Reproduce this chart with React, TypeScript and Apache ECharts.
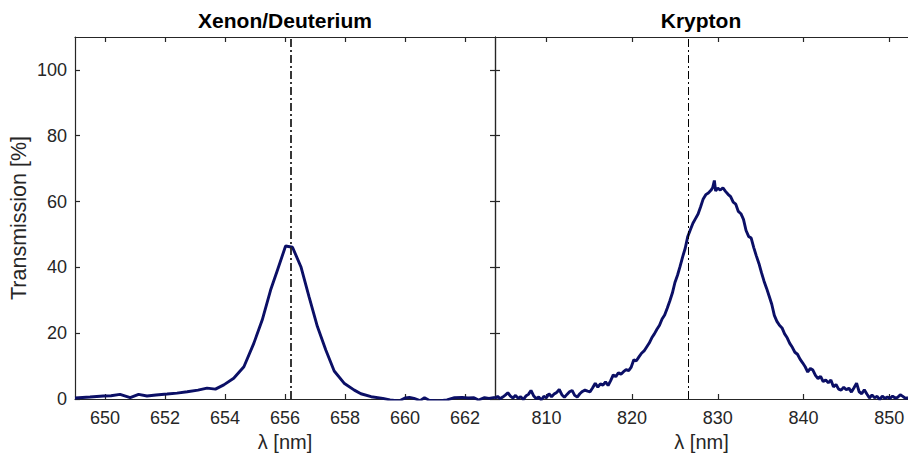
import React, { useEffect, useRef } from "react";
import * as echarts from "echarts";

const xenonTitle = "Xenon/Deuterium";
const kryptonTitle = "Krypton";
const xLabel = "λ [nm]";
const yLabel = "Transmission [%]";

const xenonTicks = [650, 652, 654, 656, 658, 660, 662];
const kryptonTicks = [810, 820, 830, 840, 850];
const yTicks = [0, 20, 40, 60, 80, 100];
const xenonRange = [649, 663];
const kryptonRange = [804, 852.2];
const yRange = [0, 110];
const xenonLine = 656.2;
const kryptonLine = 826.5;

const xenonPoints = [
  [649.0, 0.3], [649.5, 0.6], [649.95, 0.9], [650.2, 1.0], [650.5, 1.4], [650.84, 0.4],
  [651.12, 1.4], [651.4, 0.9], [651.7, 1.2], [652.07, 1.5], [652.4, 1.8], [652.74, 2.2],
  [653.1, 2.7], [653.4, 3.3], [653.68, 3.0], [653.96, 4.3], [654.29, 6.3], [654.63, 9.8],
  [654.96, 16.9], [655.24, 24.0], [655.52, 33.1], [655.75, 39.2], [656.02, 46.5], [656.25, 46.1],
  [656.53, 40.2], [656.8, 31.1], [657.08, 22.0], [657.36, 14.9], [657.64, 8.5], [657.97, 4.8],
  [658.31, 2.7], [658.53, 1.6], [658.87, 0.7], [659.26, 0.2], [659.5, -0.3], [659.8, -0.6],
  [660.0, 0.3], [660.15, 0.5], [660.3, 0.2], [660.5, -0.5], [660.65, 0.4], [660.8, -0.4],
  [661.1, -0.6], [661.4, -0.3], [661.65, 0.4], [661.9, 0.5], [662.1, 0.3], [662.3, 0.4],
  [662.45, -0.3], [662.65, 0.4], [662.8, 0.2], [663.0, 0.5],
];

const kryptonPoints = [
  [804.0, 0.2], [804.3, 0.8], [804.6, 0.1], [804.9, 0.6], [805.2, 1.2], [805.5, 1.9],
  [805.8, 0.9], [806.1, 0.3], [806.4, 1.1], [806.7, 0.2], [807.0, 0.7], [807.3, -0.2],
  [807.6, 0.9], [807.9, 1.4], [808.2, 2.6], [808.5, 1.0], [808.8, 0.1], [809.1, 0.6],
  [809.4, -0.3], [809.7, 0.8], [810.0, 0.4], [810.3, 1.6], [810.6, 0.7], [810.9, 1.5],
  [811.2, 2.0], [811.5, 2.9], [811.8, 1.3], [812.1, 0.5], [812.4, 1.4], [812.7, 2.2],
  [813.0, 2.6], [813.3, 1.1], [813.6, 0.6], [813.9, 1.6], [814.2, 2.3], [814.5, 2.7],
  [814.8, 2.4], [815.1, 2.2], [815.4, 3.4], [815.7, 4.8], [816.0, 3.6], [816.3, 4.6],
  [816.6, 4.2], [816.9, 5.2], [817.2, 4.1], [817.5, 5.6], [817.8, 7.3], [818.1, 6.8],
  [818.4, 8.0], [818.7, 7.5], [819.0, 8.3], [819.3, 8.9], [819.6, 8.6], [819.9, 9.7],
  [820.2, 11.9], [820.5, 11.6], [820.8, 12.8], [821.1, 13.9], [821.4, 14.6], [821.7, 15.8],
  [822.0, 17.0], [822.3, 18.6], [822.6, 19.8], [822.9, 21.2], [823.2, 22.4], [823.5, 24.3],
  [823.8, 25.5], [824.1, 27.6], [824.4, 29.8], [824.7, 32.2], [825.0, 35.4], [825.3, 37.6],
  [825.6, 40.3], [825.9, 43.2], [826.2, 45.8], [826.5, 49.4], [826.8, 51.4], [827.1, 53.4],
  [827.4, 54.8], [827.7, 56.2], [828.0, 58.4], [828.3, 60.8], [828.6, 62.1], [828.9, 62.6],
  [829.2, 63.4], [829.4, 64.2], [829.6, 66.4], [829.75, 63.2], [830.0, 64.1], [830.3, 63.5],
  [830.6, 64.2], [830.9, 63.1], [831.2, 62.2], [831.5, 61.5], [831.8, 59.8], [832.1, 59.2],
  [832.4, 57.0], [832.7, 56.3], [833.0, 54.6], [833.3, 51.2], [833.6, 49.4], [833.9, 48.9],
  [834.2, 46.0], [834.5, 43.5], [834.8, 41.2], [835.1, 38.4], [835.4, 35.8], [835.7, 33.6],
  [836.0, 31.2], [836.3, 28.8], [836.6, 25.4], [836.9, 23.6], [837.2, 22.4], [837.5, 21.6],
  [837.8, 19.8], [838.1, 18.6], [838.4, 16.9], [838.7, 15.7], [839.0, 14.2], [839.3, 13.6],
  [839.6, 12.1], [839.9, 11.0], [840.2, 9.8], [840.5, 8.2], [840.8, 9.3], [841.1, 8.8],
  [841.4, 7.2], [841.7, 6.2], [842.0, 6.9], [842.3, 5.3], [842.6, 5.8], [842.9, 4.9],
  [843.2, 5.8], [843.5, 3.7], [843.8, 4.4], [844.1, 3.0], [844.4, 2.7], [844.7, 3.6],
  [845.0, 2.8], [845.3, 3.3], [845.6, 2.1], [845.9, 3.4], [846.2, 4.8], [846.5, 2.2],
  [846.8, 1.6], [847.1, 2.8], [847.4, 1.5], [847.7, 0.3], [848.0, 1.2], [848.3, 0.4],
  [848.6, 0.8], [848.9, -0.2], [849.2, 0.9], [849.5, 0.2], [849.8, 0.6], [850.1, 0.2],
  [850.4, 0.9], [850.7, 0.3], [851.0, 0.5], [851.3, 1.3], [851.6, 0.8], [851.9, 0.2],
  [852.2, 0.4],
];

const axisColor = "#262626";
const lineColor = "#0b0f66";
const font = "'Liberation Sans', Arial, Helvetica, sans-serif";

function makeX(grid: number, range: number[], ticks: number[], position: string, labels: boolean) {
  return {
    type: "value",
    gridIndex: grid,
    position,
    min: range[0],
    max: range[1],
    axisLine: { show: true, onZero: false, lineStyle: { color: axisColor, width: 1.2 } },
    axisTick: { show: true, inside: true, length: 5, customValues: ticks, lineStyle: { color: axisColor, width: 1.2 } },
    axisLabel: { show: labels, customValues: ticks, margin: 10, color: axisColor, fontSize: 18, fontFamily: font },
    splitLine: { show: false },
    name: labels ? xLabel : "",
    nameLocation: "middle",
    nameGap: 32,
    nameTextStyle: { color: axisColor, fontSize: 20, fontFamily: font },
  };
}

function makeY(grid: number, position: string, labels: boolean, withName: boolean) {
  return {
    type: "value",
    gridIndex: grid,
    position,
    min: yRange[0],
    max: yRange[1],
    axisLine: { show: true, onZero: false, lineStyle: { color: axisColor, width: 1.2 } },
    axisTick: { show: true, inside: true, length: 5, customValues: yTicks, lineStyle: { color: axisColor, width: 1.2 } },
    axisLabel: { show: labels, customValues: yTicks, margin: 8, color: axisColor, fontSize: 18, fontFamily: font },
    splitLine: { show: false },
    name: withName ? yLabel : "",
    nameLocation: "middle",
    nameGap: 45,
    nameTextStyle: { color: axisColor, fontSize: 21.5, fontFamily: font },
  };
}

export default function App() {
  const ref = useRef<HTMLDivElement>(null);
  useEffect(() => {
    if (!ref.current) return;
    const chart = echarts.init(ref.current, undefined, { renderer: "svg" });
    chart.setOption({
      animation: false,
      backgroundColor: "#ffffff",
      title: [
        { text: xenonTitle, left: 285, top: 10, textAlign: "center", padding: 0,
          textStyle: { fontSize: 21, fontWeight: "bold", color: "#000", fontFamily: font } },
        { text: kryptonTitle, left: 701, top: 10, textAlign: "center", padding: 0,
          textStyle: { fontSize: 21, fontWeight: "bold", color: "#000", fontFamily: font } },
      ],
      grid: [
        { left: 75, top: 37, width: 420, bottom: 58 },
        { left: 495, top: 37, right: 0, bottom: 58 },
      ],
      xAxis: [
        makeX(0, xenonRange, xenonTicks, "bottom", true),
        makeX(0, xenonRange, xenonTicks, "top", false),
        makeX(1, kryptonRange, kryptonTicks, "bottom", true),
        makeX(1, kryptonRange, kryptonTicks, "top", false),
      ],
      yAxis: [makeY(0, "left", true, true), makeY(0, "right", false, false), makeY(1, "left", false, false)],
      series: [
        {
          type: "line",
          xAxisIndex: 0,
          yAxisIndex: 0,
          data: xenonPoints,
          showSymbol: false,
          clip: true,
          lineStyle: { color: lineColor, width: 2.9 },
          markLine: {
            silent: true,
            symbol: ["none", "none"],
            label: { show: false },
            lineStyle: { color: "#222", width: 1.8, type: [8, 3, 2, 3] },
            data: [{ xAxis: xenonLine }],
          },
        },
        {
          type: "line",
          xAxisIndex: 2,
          yAxisIndex: 2,
          data: kryptonPoints,
          showSymbol: false,
          clip: true,
          lineStyle: { color: lineColor, width: 2.9 },
          markLine: {
            silent: true,
            symbol: ["none", "none"],
            label: { show: false },
            lineStyle: { color: "#000", width: 1, type: [8, 3, 2, 3] },
            data: [{ xAxis: kryptonLine }],
          },
        },
      ],
    });
    return () => chart.dispose();
  }, []);
  return <div ref={ref} style={{ position: "absolute", left: 0, top: 0, width: 908, height: 457 }} />;
}
